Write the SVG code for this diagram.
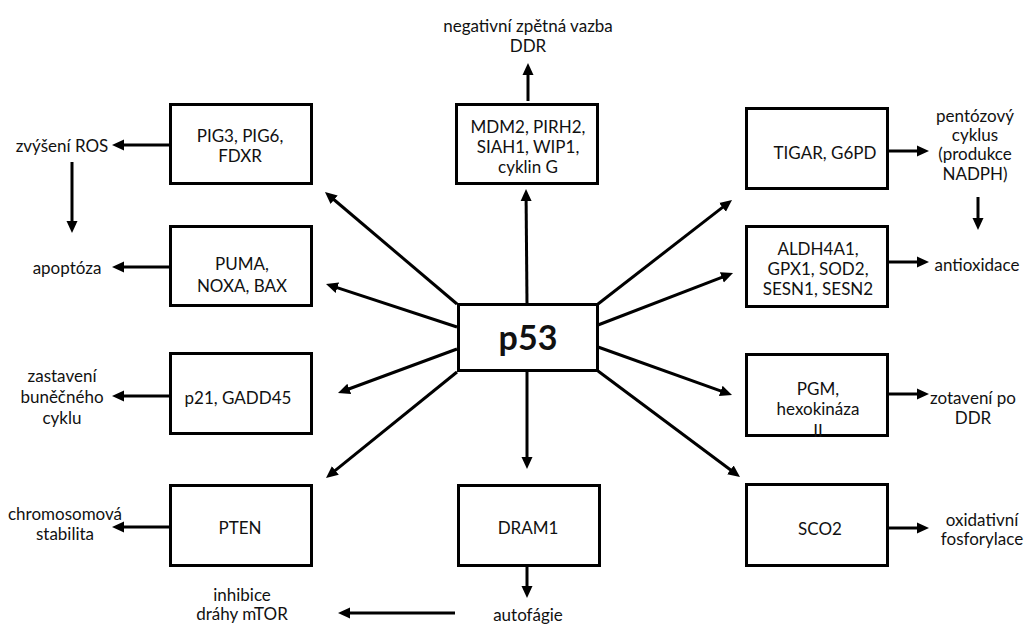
<svg xmlns="http://www.w3.org/2000/svg" width="1025" height="624" viewBox="0 0 1025 624">
<style>
.box{fill:#fff;stroke:#000;stroke-width:3}
.t{font-family:Lato,"Liberation Sans",sans-serif;font-size:17px;fill:#111;text-anchor:middle;dominant-baseline:central}
.big{font-family:Lato,"Liberation Sans",sans-serif;font-size:34px;font-weight:bold;fill:#111;text-anchor:middle;dominant-baseline:central}
.c{stroke:#000;stroke-width:3;fill:none;marker-end:url(#ah)}
</style>
<defs>
<marker id="ah" markerUnits="userSpaceOnUse" markerWidth="12" markerHeight="12" refX="2" refY="5.5" orient="auto" viewBox="0 0 12 11">
<path d="M0,0 L12,5.5 L0,11 z" fill="#000"/>
</marker>
</defs>
<rect width="1025" height="624" fill="#fff"/>
<g id="connectors">
<line class="c" x1="170" y1="145" x2="122" y2="145"/>
<line class="c" x1="72" y1="162" x2="72" y2="223"/>
<line class="c" x1="170" y1="267" x2="122" y2="267"/>
<line class="c" x1="170" y1="396" x2="122" y2="396"/>
<line class="c" x1="170" y1="527" x2="122" y2="527"/>
<line class="c" x1="528" y1="101" x2="528" y2="73"/>
<line class="c" x1="527" y1="304" x2="526.1" y2="199"/>
<line class="c" x1="457" y1="304" x2="332.6" y2="198.5"/>
<line class="c" x1="457" y1="327" x2="335.5" y2="287.1"/>
<line class="c" x1="457" y1="349" x2="347.4" y2="389.5"/>
<line class="c" x1="457" y1="372" x2="333.8" y2="471.7"/>
<line class="c" x1="527" y1="371" x2="527" y2="459"/>
<line class="c" x1="527" y1="567" x2="527" y2="588"/>
<line class="c" x1="455" y1="613" x2="348" y2="613"/>
<line class="c" x1="598" y1="304" x2="724.1" y2="206.1"/>
<line class="c" x1="598" y1="325" x2="723.7" y2="276.6"/>
<line class="c" x1="598" y1="347" x2="722.6" y2="391.6"/>
<line class="c" x1="598" y1="371" x2="732" y2="471"/>
<line class="c" x1="889" y1="151" x2="919" y2="151"/>
<line class="c" x1="978" y1="197" x2="978" y2="220"/>
<line class="c" x1="889" y1="262" x2="919" y2="262"/>
<line class="c" x1="889" y1="394" x2="919" y2="394"/>
<line class="c" x1="889" y1="528" x2="919" y2="528"/>
</g>
<g id="p53"><rect class="box" x="458.5" y="304.5" width="139" height="66"/><text class="big" x="528" y="336">p53</text></g>
<g id="pig3"><rect class="box" x="170.5" y="104.5" width="141" height="79"/><text class="t" x="240" y="135">PIG3, PIG6,</text><text class="t" x="240" y="155">FDXR</text></g>
<g id="puma"><rect class="box" x="170.5" y="226.5" width="141" height="79"/><text class="t" x="242" y="263">PUMA,</text><text class="t" x="242" y="285">NOXA, BAX</text></g>
<g id="p21"><rect class="box" x="170.5" y="353.5" width="141" height="80"/><text class="t" x="238" y="397">p21, GADD45</text></g>
<g id="pten"><rect class="box" x="170.5" y="485.5" width="141" height="80"/><text class="t" x="240" y="527">PTEN</text></g>
<g id="mdm2"><rect class="box" x="456.5" y="104.5" width="141" height="79"/><text class="t" x="528" y="126">MDM2, PIRH2,</text><text class="t" x="528" y="146">SIAH1, WIP1,</text><text class="t" x="528" y="166">cyklin G</text></g>
<g id="dram1"><rect class="box" x="458.5" y="485.5" width="141" height="80"/><text class="t" x="528" y="527">DRAM1</text></g>
<g id="tigar"><rect class="box" x="746.5" y="108.5" width="141" height="80"/><text class="t" x="825" y="152">TIGAR, G6PD</text></g>
<g id="aldh"><rect class="box" x="746.5" y="226.5" width="141" height="80"/><text class="t" x="818" y="248">ALDH4A1,</text><text class="t" x="818" y="268">GPX1, SOD2,</text><text class="t" x="818" y="288">SESN1, SESN2</text></g>
<g id="pgm"><rect class="box" x="746.5" y="354.5" width="141" height="81"/><text class="t" x="818" y="388">PGM,</text><text class="t" x="818" y="408">hexokináza</text><text class="t" x="818" y="430">II</text></g>
<g id="sco2"><rect class="box" x="746.5" y="484.5" width="141" height="81"/><text class="t" x="820" y="528">SCO2</text></g>
<g id="ros"><text class="t" x="62" y="145">zvýšení ROS</text></g>
<g id="apoptoza"><text class="t" x="67" y="267">apoptóza</text></g>
<g id="zastaveni"><text class="t" x="62" y="375">zastavení</text><text class="t" x="62" y="396">buněčného</text><text class="t" x="62" y="417">cyklu</text></g>
<g id="chromo"><text class="t" x="65" y="513">chromosomová</text><text class="t" x="65" y="533">stabilita</text></g>
<g id="inhibice"><text class="t" x="242" y="594">inhibice</text><text class="t" x="242" y="613">dráhy mTOR</text></g>
<g id="autofagie"><text class="t" x="528" y="614">autofágie</text></g>
<g id="negativni"><text class="t" x="528" y="25">negativní zpětná vazba</text><text class="t" x="528" y="45">DDR</text></g>
<g id="pentoza"><text class="t" x="975" y="115">pentózový</text><text class="t" x="975" y="134">cyklus</text><text class="t" x="975" y="153">(produkce</text><text class="t" x="975" y="173">NADPH)</text></g>
<g id="antiox"><text class="t" x="977" y="264">antioxidace</text></g>
<g id="zotaveni"><text class="t" x="973" y="397">zotavení po</text><text class="t" x="973" y="417">DDR</text></g>
<g id="oxid"><text class="t" x="982" y="519">oxidativní</text><text class="t" x="982" y="538">fosforylace</text></g>
</svg>
